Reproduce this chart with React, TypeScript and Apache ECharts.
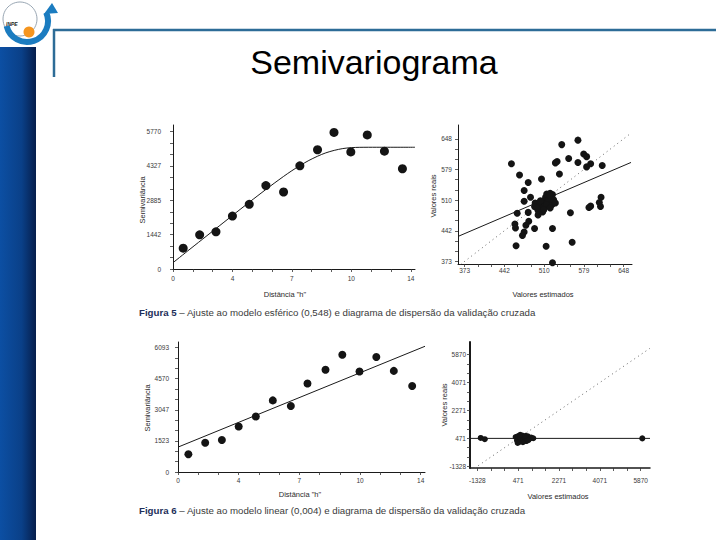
import React, { useEffect, useRef } from "react";
import * as echarts from "echarts";

// ---------- data ----------
// semivariance samples (same empirical semivariogram in both figures)
const lagH = [0.6, 1.57, 2.53, 3.5, 4.49, 5.47, 6.51, 7.47, 8.51, 9.48, 10.47, 11.44, 12.45, 13.51];
const semivar = [873, 1436, 1564, 2225, 2716, 3506, 3235, 4333, 5010, 5740, 4920, 5633, 4950, 4212];

// spherical model curve
const sphericalH = [0, 1, 2, 3, 4, 5, 6, 7, 8, 9, 10, 11, 12, 14.25];
const sphericalG = [265, 835, 1400, 1965, 2530, 3085, 3625, 4130, 4560, 4880, 5060, 5112, 5115, 5115];

// linear model line
const linearH = [0, 14.25];
const linearG = [1218, 6156];

// tick labels
const semiXTickVals = [0, 3.5, 7, 10.5, 14];
const semiXTicks = ["0", "4", "7", "10", "14"];
const semi5YTickVals = [0, 1442.5, 2885, 4327.5, 5770];
const semi5YTicks = ["0", "1442", "2885", "4327", "5770"];
const semi6YTickVals = [0, 1523.25, 3046.5, 4569.75, 6093];
const semi6YTicks = ["0", "1523", "3047", "4570", "6093"];

// cross validation, figure 5
const cv5TickVals = [373, 441.75, 510.5, 579.25, 648];
const cv5Ticks = ["373", "442", "510", "579", "648"];
const cv5Est = [454, 468, 483, 506, 476, 487, 476, 541, 569, 533, 530, 553, 579, 584, 569, 591, 584, 611, 537, 464, 483, 484, 479, 460, 461, 476, 473, 494, 462, 514, 525, 525, 559, 556, 500, 609, 591, 588, 606, 608, 495, 502, 508, 513, 515, 521, 525, 518, 511, 506, 500, 524, 527, 515, 508, 494, 521, 504, 498, 510, 530, 520];
const cv5Real = [592, 567, 550, 558, 532, 517, 508, 635, 645, 597, 594, 604, 614, 608, 595, 592, 585, 588, 569, 481, 483, 463, 454, 457, 448, 439, 431, 447, 408, 407, 447, 370, 416, 482, 477, 517, 497, 494, 505, 496, 504, 500, 508, 517, 524, 526, 523, 511, 496, 491, 487, 500, 511, 500, 484, 496, 493, 509, 493, 489, 504, 521];
const cv5RegX = [361.6, 660.8];
const cv5RegY = [429, 595];
const cv5IdX = [366, 661];
const cv5IdY = [366, 661];

// cross validation, figure 6
const cv6TickVals = [-1328, 471.5, 2271, 4070.5, 5870];
const cv6Ticks = ["-1328", "471", "2271", "4071", "5870"];
const cv6Est = [-1178, -1000, 360, 420, 470, 520, 580, 640, 700, 760, 830, 900, 970, 1050, 1140, 450, 560, 680, 800, 920, 5940];
const cv6Real = [500, 420, 560, 330, 620, 250, 470, 660, 380, 540, 300, 600, 450, 520, 480, 180, 700, 220, 640, 350, 471];
const cv6RegX = [-1650, 6280];
const cv6RegY = [471, 471];
const cv6IdX = [-1450, 6270];
const cv6IdY = [-1450, 6270];

// ---------- helpers ----------
const FONT = "'Liberation Sans', Arial, Helvetica, sans-serif";

function thirds(v: number[]): number[] {
  const out: number[] = [];
  for (let i = 0; i < v.length - 1; i++) {
    const d = (v[i + 1] - v[i]) / 3;
    out.push(v[i], v[i] + d, v[i] + 2 * d);
  }
  out.push(v[v.length - 1]);
  return out;
}

function zip(a: number[], b: number[]) {
  return a.map((x, i) => [x, b[i]]);
}

function valueAxis(
  gridIndex: number,
  min: number,
  max: number,
  tickVals: number[],
  labels: string[],
  margin: number,
  lineWidth: number
) {
  return {
    type: "value",
    gridIndex,
    min,
    max,
    axisLine: { show: true, onZero: false, lineStyle: { color: "#1a1a1a", width: lineWidth } },
    axisTick: {
      show: true,
      customValues: thirds(tickVals),
      length: 3,
      lineStyle: { color: "#333", width: 0.8 },
    },
    axisLabel: {
      show: true,
      customValues: tickVals,
      margin,
      fontSize: 6.5,
      color: "#3a3a3a",
      fontFamily: FONT,
      formatter: (val: number) => {
        let best = 0;
        for (let i = 1; i < tickVals.length; i++) {
          if (Math.abs(tickVals[i] - val) < Math.abs(tickVals[best] - val)) best = i;
        }
        return labels[best];
      },
    },
    splitLine: { show: false },
  };
}

function scatter(idx: number, data: number[][], size: number) {
  return {
    type: "scatter",
    xAxisIndex: idx,
    yAxisIndex: idx,
    data,
    symbolSize: size,
    itemStyle: { color: "#141414", opacity: 1 },
    z: 4,
  };
}

function line(idx: number, data: number[][], dotted: boolean, smooth: number | boolean = false) {
  return {
    type: "line",
    xAxisIndex: idx,
    yAxisIndex: idx,
    data,
    symbol: "none",
    showSymbol: false,
    smooth,
    lineStyle: dotted
      ? { color: "#666", width: 1, type: [1, 3.5] }
      : { color: "#1a1a1a", width: 1 },
    z: 3,
  };
}

function axisName(x: number, y: number, text: string, vertical: boolean) {
  return {
    type: "text",
    x,
    y,
    rotation: vertical ? Math.PI / 2 : 0,
    style: {
      text,
      fontSize: 7.5,
      fontFamily: FONT,
      fill: "#2a2a2a",
      align: "center",
      verticalAlign: "middle",
    },
  };
}

function caption(y: number, text: string) {
  return {
    type: "text",
    x: 139,
    y,
    style: {
      text,
      fontSize: 9.7,
      fontFamily: FONT,
      fill: "#3a3a3a",
      verticalAlign: "middle",
      rich: { b: { fontSize: 9.7, fontFamily: FONT, fontWeight: "bold", fill: "#1e2f5a" } },
    },
  };
}

export default function App() {
  const ref = useRef<HTMLDivElement>(null);

  useEffect(() => {
    if (!ref.current) return;
    const chart = echarts.init(ref.current, undefined, { renderer: "svg" });

    const option: any = {
      animation: false,
      backgroundColor: "#ffffff",
      grid: [
        { left: 173, top: 125, width: 242, height: 144, containLabel: false, outerBoundsMode: "none" },
        { left: 458, top: 125, width: 174, height: 139, containLabel: false, outerBoundsMode: "none" },
        { left: 178, top: 342, width: 247, height: 130, containLabel: false, outerBoundsMode: "none" },
        { left: 470, top: 342, width: 180, height: 126, containLabel: false, outerBoundsMode: "none" },
      ],
      xAxis: [
        valueAxis(0, 0, 14.25, semiXTickVals, semiXTicks, 6, 1),
        valueAxis(1, 361.6, 662.5, cv5TickVals, cv5Ticks, 3, 1),
        valueAxis(2, 0, 14.25, semiXTickVals, semiXTicks, 5, 1),
        valueAxis(3, -1650, 6280, cv6TickVals, cv6Ticks, 9, 1.5),
      ],
      yAxis: [
        valueAxis(0, 0, 6050, semi5YTickVals, semi5YTicks, 12, 1),
        valueAxis(1, 367.2, 679, cv5TickVals, cv5Ticks, 6, 1),
        valueAxis(2, 0, 6365, semi6YTickVals, semi6YTicks, 9, 1),
        valueAxis(3, -1438, 6683, cv6TickVals, cv6Ticks, 4, 2),
      ],
      series: [
        line(0, zip(sphericalH, sphericalG), false, 0.3),
        scatter(0, zip(lagH, semivar), 9),
        line(1, zip(cv5IdX, cv5IdY), true),
        line(1, zip(cv5RegX, cv5RegY), false),
        scatter(1, zip(cv5Est, cv5Real), 7),
        line(2, zip(linearH, linearG), false),
        scatter(2, zip(lagH, semivar), 8),
        line(3, zip(cv6IdX, cv6IdY), true),
        line(3, zip(cv6RegX, cv6RegY), false),
        scatter(3, zip(cv6Est, cv6Real), 6),
      ],
      graphic: [
        // left blue band
        {
          type: "rect",
          shape: { x: 0, y: 47, width: 36, height: 493 },
          style: {
            fill: new echarts.graphic.LinearGradient(0, 0, 1, 0, [
              { offset: 0, color: "#0c4fa3" },
              { offset: 0.6, color: "#0a4088" },
              { offset: 1, color: "#061e4c" },
            ]),
          },
        },
        // header rules
        { type: "line", shape: { x1: 53, y1: 30, x2: 716, y2: 30 }, style: { stroke: "#2d6c97", lineWidth: 2.5 } },
        { type: "line", shape: { x1: 54, y1: 29, x2: 54, y2: 77 }, style: { stroke: "#2d6c97", lineWidth: 2.5 } },
        // logo
        { type: "circle", shape: { cx: 20, cy: 19, r: 17 }, style: { fill: "none", stroke: "#7f8fa0", lineWidth: 0.8 } },
        {
          type: "arc",
          shape: { cx: 27, cy: 21, r: 21, startAngle: -0.42, endAngle: 2.9, clockwise: true },
          style: { stroke: "#1b7cc0", lineWidth: 6, fill: "none" },
        },
        { type: "polygon", shape: { points: [[44, 14], [58, 13], [52, 3]] }, style: { fill: "#1b7cc0" } },
        { type: "circle", shape: { cx: 29, cy: 32, r: 5.5 }, style: { fill: "#f5951f" } },
        {
          type: "text",
          x: 6,
          y: 24,
          style: { text: "INPE", fontSize: 5, fontWeight: "bold", fontStyle: "italic", fill: "#1a1a1a", fontFamily: FONT, verticalAlign: "middle" },
        },
        // title
        {
          type: "text",
          x: 374,
          y: 62,
          style: { text: "Semivariograma", fontSize: 34, fontFamily: FONT, fill: "#000", align: "center", verticalAlign: "middle" },
        },
        // axis names
        axisName(142, 200, "Semivariância", true),
        axisName(285, 294, "Distância \"h\"", false),
        axisName(433, 196, "Valores reais", true),
        axisName(543, 294, "Valores estimados", false),
        axisName(147, 408, "Semivariância", true),
        axisName(300, 494, "Distância \"h\"", false),
        axisName(444, 405, "Valores reais", true),
        axisName(558, 496, "Valores estimados", false),
        // captions
        caption(312, "{b|Figura 5} – Ajuste ao modelo esférico (0,548) e diagrama de dispersão da validação cruzada"),
        caption(510, "{b|Figura 6} – Ajuste ao modelo linear (0,004) e diagrama de dispersão da validação cruzada"),
      ],
    };

    chart.setOption(option);
    return () => {
      chart.dispose();
    };
  }, []);

  return (
    <div
      ref={ref}
      style={{ position: "absolute", left: 0, top: 0, width: 720, height: 540, background: "#fff" }}
    />
  );
}
